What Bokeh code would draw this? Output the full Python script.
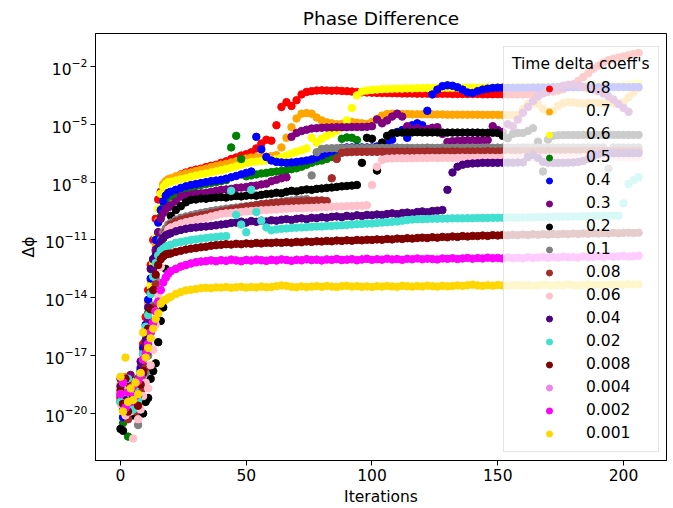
import numpy as np
from bokeh.plotting import figure
from bokeh.models import Range1d, FixedTicker, LogTickFormatter, Legend, LegendItem, ColumnDataSource
from bokeh.embed import file_html
from bokeh.resources import INLINE

# iterations: every iteration for 0..19, then every 2nd iteration
ITER_EARLY = list(range(0, 20))
ITER_LATE = list(range(20, 208, 2))

COEFFS = ["0.8", "0.7", "0.6", "0.5", "0.4", "0.3", "0.2", "0.1", "0.08", "0.06",
          "0.04", "0.02", "0.008", "0.004", "0.002", "0.001"]
COLORS = ["red", "orange", "yellow", "green", "blue", "purple", "black", "gray", "brown", "pink",
          "indigo", "turquoise", "maroon", "violet", "magenta", "gold"]

# log10(delta phi), early part (iterations 0..19)
E_08 = [-19.2, -18.6, -19.8, -18.3, -19.5, -18.8, -19.1, -18.2, -17.6, -16.4, -15.0, -13.6, -12.3, -11.0, -9.9, -8.9, -8.5, -8.2, -8.0, -7.9]
E_07 = [-18.5, -19.3, -18.1, -19.7, -18.9, -19.4, -18.6, -19.0, -17.9, -16.8, -15.6, -14.3, -13.1, -12.0, -11.2, -10.0, -8.6, -8.1, -7.95, -7.85]
E_06 = [-18.9, -19.6, -18.4, -19.1, -18.7, -19.8, -18.5, -19.3, -18.0, -17.0, -15.8, -14.6, -13.4, -12.2, -10.9, -9.4, -8.6, -8.25, -8.1, -8.0]
E_05 = [-19.4, -20.5, -18.7, -21.2, -19.0, -18.5, -19.6, -18.2, -17.8, -16.9, -15.9, -14.8, -13.7, -12.5, -11.6, -10.6, -9.8, -9.3, -8.9, -8.7]
E_04 = [-19.0, -20.2, -18.8, -20.0, -19.3, -18.6, -19.7, -18.9, -17.7, -16.6, -15.4, -14.1, -13.0, -12.0, -11.0, -10.1, -9.45, -9.0, -8.7, -8.55]
E_03 = [-18.2, -19.0, -18.5, -19.6, -18.0, -19.3, -20.0, -18.7, -18.3, -17.5, -16.4, -15.1, -13.8, -12.6, -11.5, -10.6, -9.9, -9.6, -9.4, -9.3]
E_02 = [-20.8, -20.9, -19.0, -19.5, -18.6, -20.1, -19.3, -19.8, -18.9, -20.0, -19.4, -19.2, -18.2, -17.8, -17.4, -16.3, -15.2, -14.5, -12.5, -10.6]
E_01 = [-19.3, -18.8, -19.9, -18.4, -19.6, -18.9, -19.2, -20.6, -19.0, -18.5, -17.9, -17.0, -15.8, -14.4, -13.0, -11.8, -11.0, -10.6, -10.4, -10.2]
E_008 = [-19.1, -19.8, -18.6, -20.3, -19.4, -18.5, -19.9, -19.2, -18.8, -18.3, -17.6, -16.8, -15.7, -14.5, -13.3, -12.2, -11.4, -10.9, -10.6, -10.4]
E_006 = [-19.5, -18.7, -20.1, -19.0, -19.9, -21.3, -19.6, -20.3, -19.8, -19.1, -18.4, -18.7, -17.5, -16.7, -15.4, -13.9, -12.4, -11.3, -10.7, -10.45]
E_004 = [-18.6, -19.2, -18.3, -19.0, -18.8, -19.5, -18.4, -19.1, -17.3, -17.9, -16.2, -14.5, -12.5, -12.0, -11.8, -11.4, -11.1, -10.9, -10.75, -10.7]
E_002 = [-19.4, -18.9, -19.7, -18.2, -19.0, -19.8, -18.6, -19.3, -18.0, -16.9, -15.5, -14.9, -13.8, -12.9, -12.2, -11.8, -11.55, -11.45, -11.35, -11.3]
E_0008 = [-18.8, -19.5, -18.2, -19.9, -18.6, -19.2, -18.4, -19.6, -18.5, -17.8, -16.7, -15.6, -14.6, -13.6, -12.8, -12.3, -12.0, -11.85, -11.75, -11.72]
E_0004 = [-19.0, -18.4, -19.7, -18.9, -19.4, -18.6, -19.1, -18.3, -18.0, -17.2, -16.9, -16.4, -15.8, -15.3, -14.7, -14.2, -13.6, -13.2, -12.95, -12.75]
E_0002 = [-19.0, -18.4, -19.7, -18.9, -19.4, -18.6, -19.1, -18.3, -18.0, -17.2, -16.9, -16.4, -15.8, -15.3, -14.7, -14.2, -13.6, -13.2, -12.95, -12.75]
E_0001 = [-18.1, -19.9, -17.1, -19.4, -18.7, -19.3, -18.4, -19.0, -17.9, -15.8, -17.1, -16.6, -16.1, -15.6, -15.1, -14.8, -14.3, -14.15, -14.1, -14.0]

# log10(delta phi), later part (iterations 20, 22, 24, ...)
L_08 = [-7.9, -7.75, -7.6, -7.5, -7.42, -7.35, -7.3, -7.22, -7.15, -7.1,
        -7.0, -6.92, -6.8, -6.72, -6.62, -6.55, -6.45, -6.25, -6.0, -5.8,
        -5.85, -5.05, -4.1, -3.85, -4.05, -3.75, -3.45, -3.32, -3.28, -3.25,
        -3.24, -3.25, -3.26, -3.25, -3.27, -3.28, -3.3, -3.32, -3.34, -3.35,
        -3.36, -3.37, -3.38, -3.38, -3.39, -3.39, -3.4, -3.4, -3.4, -3.41,
        -3.41, -3.41, -3.42, -3.42, -3.42, -3.42, -3.43, -3.43, -3.43, -3.43,
        -3.43, -3.43, -3.44, -3.44, -3.44, -3.44, -3.44, -3.45, -3.45, -3.45,
        -3.45, -3.44, -3.42, -3.38, -3.35, -3.32, -3.3, -3.25, -3.18, -3.05,
        -2.92, -2.75, -2.55, -2.35, -2.12, -1.95, -1.8, -1.68, -1.6, -1.53,
        -1.48, -1.42, -1.36, -1.3]
L_07 = [-7.8, -7.7, -7.62, -7.55, -7.5, -7.42, -7.36, -7.3, -7.22, -7.16,
        -7.1, -7.05, -6.98, -6.92, -6.85, -6.78, -6.72, -6.7, -6.68, -6.68,
        -6.65, -6.6, -6.2, -5.7, -5.15, -4.7, -4.45, -4.42, -4.45, -4.65,
        -4.8, -4.9, -4.95, -5.0, -4.98, -4.9, -4.88, -4.92, -4.95, -4.98,
        -4.88, -4.72, -4.55, -4.47, -4.45, -4.46, -4.47, -4.47, -4.48, -4.48,
        -4.48, -4.48, -4.49, -4.49, -4.49, -4.5, -4.5, -4.5, -4.5, -4.5,
        -4.5, -4.5, -4.51, -4.51, -4.51, -4.51, -4.52, -4.52, -4.52, -4.52,
        -4.2, -3.95, -3.9, -3.95, -4.2, -4.35, -4.3, -4.05, -3.9, -3.85,
        -3.87, -3.9, -3.92, -3.9, -3.88, -3.9, -3.92, -3.9, -3.9, -3.91,
        -3.85, -3.6, -3.35, -3.1]
L_06 = [-7.98, -7.92, -7.85, -7.8, -7.72, -7.66, -7.6, -7.55, -7.5, -7.44,
        -7.38, -7.32, -7.25, -7.18, -7.1, -7.02, -6.96, -6.93, -6.9, -6.88,
        -6.85, -6.8, -6.72, -6.62, -6.52, -6.42, -6.35, -6.25, -5.7, -5.95,
        -5.75, -5.6, -5.48, -5.32, -5.15, -4.8, -4.15, -3.5, -3.3, -3.25,
        -3.22, -3.2, -3.18, -3.17, -3.16, -3.15, -3.15, -3.14, -3.14, -3.13,
        -3.13, -3.12, -3.12, -3.12, -3.11, -3.11, -3.11, -3.1, -3.1, -3.1,
        -3.1, -3.1, -3.09, -3.09, -3.09, -3.08, -3.08, -3.08, -3.07, -3.07,
        -3.07, -3.06, -3.06, -3.06, -3.05, -3.05, -3.05, -3.04, -3.04, -3.04,
        -3.03, -3.03, -3.03, -3.02, -3.02, -3.02, -3.01, -3.01, -3.0, -3.0,
        -2.98, -2.95, -2.92, -2.88]
L_05 = [-8.75, -8.6, -8.45, -8.35, -8.28, -8.2, -8.15, -8.1, -8.05, -8.0,
        -7.95, -7.9, -6.2, -5.6, -6.8, -7.7, -7.65, -7.6, -7.55, -7.52,
        -7.48, -7.45, -7.42, -7.38, -7.33, -7.28, -7.2, -7.1, -7.0, -6.92,
        -6.88, -6.8, -6.7, -6.6, -5.75, -5.68, -5.7, -5.82]
L_04 = [-8.5, -8.4, -8.3, -8.22, -8.15, -8.1, -8.05, -8.0, -7.95, -7.92,
        -7.88, -7.82, -7.75, -7.68, -7.6, -7.52, -7.45, -5.65, -6.3, -6.7,
        -6.88, -6.95, -6.98, -7.0, -6.98, -6.95, -6.92, -6.88, -6.82, -6.72,
        -6.62, -6.5, -6.4, -6.3, -6.22, -6.2, -6.2, -6.2, -6.2, -6.2,
        -6.2, -6.15, -6.1, -6.0, -5.8, -5.4, -5.3, -5.7, -5.05, -4.95,
        -5.05, -4.3, -3.45, -3.2, -3.02, -2.98, -3.0, -3.08, -3.2, -3.35,
        -3.38, -3.28, -3.2, -3.15, -3.12, -3.1, -3.1, -3.1, -3.1, -3.1,
        -3.1, -3.1, -3.09, -3.09, -3.09, -3.09, -3.08, -3.08, -3.08, -3.08,
        -3.08, -3.08, -3.08, -3.08, -3.08, -3.08, -3.08, -3.07, -3.07, -3.07,
        -3.07, -3.07, -3.07, -3.07]
L_03 = [-9.2, -9.0, -8.75, -8.7, -8.65, -8.6, -8.58, -8.55, -8.5, -8.45,
        -8.4, -8.38, -8.35, -8.3, -8.28, -8.25, -8.2, -8.18, -8.12, -8.08,
        -7.95, -7.88, -7.8, -7.75, -5.65, -5.45, -5.35, -5.28, -5.22, -5.2,
        -5.18, -5.17, -5.16, -5.15, -5.15, -5.15, -5.14, -5.14, -5.14, -5.13,
        -5.1, -4.75, -4.95, -4.8, -4.6, -4.45, -4.6, -5.1, -5.3, -5.2,
        -5.3, -5.25, -5.18, -5.15, -5.5, -5.92, -5.88, -5.86, -5.85, -5.84,
        -5.84, -5.83, -5.83, -5.82, -5.1, -5.3, -5.4, -5.0, -5.1, -4.75,
        -4.4, -4.1, -3.8, -3.55, -3.4, -3.3, -3.2, -3.1, -3.0, -2.95,
        -2.95, -2.98, -3.05, -3.12, -3.2, -3.28, -3.4, -3.55, -3.72, -3.95,
        -4.15, -4.35]
L_02 = [-9.75, -9.45, -9.25, -9.05, -8.92, -8.9, -8.85, -8.86, -8.82, -8.8,
        -8.78, -8.8, -8.75, -8.72, -8.74, -8.7, -8.68, -8.7, -8.66, -8.62,
        -8.6, -8.55, -8.58, -8.5, -8.45, -8.48, -8.42, -8.38, -8.4, -8.35,
        -8.33, -8.3, -8.28, -8.25, -8.22, -8.2, -8.18, -8.15, -7.0, -5.7,
        -5.75, -7.4, -5.95, -5.6, -5.47, -5.44, -5.43, -5.42, -5.42, -5.41,
        -5.42, -5.42, -5.42, -5.42, -5.43, -5.43, -5.43, -5.43, -5.43, -5.43,
        -5.43, -5.43, -5.44, -5.44, -5.44, -5.45, -5.6, -5.72, -5.5, -5.45,
        -5.45, -5.35, -5.2, -5.9, -7.45, -5.8, -5.6, -5.57, -5.56, -5.56,
        -5.56, -5.56, -5.55, -5.55, -5.55, -5.55, -5.55, -5.55, -5.55, -5.55,
        -5.55, -5.55, -5.55, -5.55]
L_01 = [-10.1, -9.95, -9.85, -9.78, -9.72, -9.66, -9.6, -9.55, -9.5, -9.46,
        -9.42, -9.38, -9.35, -9.32, -9.28, -9.25, -9.22, -9.18, -9.15, -9.12,
        -9.08, -9.05, -9.02, -8.98, -8.95, -8.92, -8.9, -8.88, -7.65, -6.45,
        -6.28, -6.25, -6.24, -6.24, -6.23, -6.23, -6.23, -6.23, -6.23, -6.23,
        -6.23, -6.22, -6.22, -6.23, -6.22, -6.21, -6.22, -6.22, -6.23, -6.22,
        -6.22, -6.21, -6.22, -6.22, -6.21, -6.22, -6.22, -6.21, -6.22, -6.21,
        -6.21, -6.22, -6.21, -6.21, -6.22, -6.21, -6.21, -6.21, -6.22, -6.21,
        -6.21, -6.21, -6.2, -6.21, -6.21, -6.2, -6.21, -6.21, -6.2, -6.21,
        -6.2, -6.21, -6.2, -6.2, -6.21, -6.2, -6.2, -7.3, -6.2, -6.2,
        -6.2, -6.21, -6.2, -6.2]
L_008 = [-10.2, -10.05, -9.95, -9.88, -9.82, -9.78, -9.72, -9.68, -9.62, -9.58,
         -9.52, -9.48, -9.42, -9.38, -9.33, -9.28, -9.24, -9.2, -9.15, -9.12,
         -9.1, -9.08, -9.06, -9.05, -9.03, -9.02, -9.0, -8.98, -8.97, -8.95,
         -8.95, -8.98, -7.8, -6.8, -6.48, -6.45, -6.44, -6.43, -6.43, -6.43,
         -6.43, -6.43, -6.42, -6.43, -6.42, -6.42, -6.43, -6.42, -6.42, -6.42,
         -6.42, -6.41, -6.42, -6.42, -6.41, -6.42, -6.41, -6.41, -6.42, -6.41,
         -6.41, -6.41, -6.41, -6.4, -6.41, -6.41, -6.4, -6.41, -6.4, -6.4,
         -6.4, -6.41, -6.4, -6.4, -6.4, -6.39, -6.4, -6.4, -6.39, -6.4,
         -6.39, -6.39, -6.4, -6.39, -6.39, -6.39, -6.38, -6.39, -6.39, -6.38,
         -6.38, -6.39, -6.38, -6.38]
L_006 = [-10.35, -10.25, -10.15, -10.08, -10.02, -9.95, -9.9, -9.85, -9.78, -9.72,
         -9.65, -9.62, -9.6, -9.57, -9.55, -9.52, -9.5, -9.48, -9.46, -9.45,
         -9.43, -9.42, -9.4, -9.38, -9.37, -9.36, -9.35, -9.34, -9.33, -9.32,
         -9.3, -9.3, -9.28, -9.27, -9.26, -9.25, -9.24, -9.23, -9.22, -9.2,
         -8.15, -7.2, -6.85, -6.78, -6.77, -6.76, -6.76, -6.76, -6.76, -6.75,
         -6.75, -6.75, -6.74, -6.75, -6.74, -6.74, -6.75, -6.74, -6.73, -6.74,
         -6.74, -6.73, -6.74, -6.73, -6.73, -6.74, -6.73, -6.72, -6.73, -6.73,
         -6.72, -6.73, -6.72, -6.72, -6.73, -6.72, -6.71, -6.72, -6.72, -6.71,
         -6.71, -6.72, -6.71, -6.71, -6.7, -6.71, -6.71, -6.7, -6.71, -6.7,
         -6.7, -6.7, -6.71, -6.7]
L_004 = [-10.65, -10.55, -10.48, -10.42, -10.38, -10.35, -10.32, -10.3, -10.27, -10.24,
         -10.2, -10.17, -10.12, -10.1, -10.05, -10.1, -10.02, -10.06, -10.0, -10.04,
         -9.98, -10.0, -9.95, -9.92, -9.96, -9.9, -9.88, -9.92, -9.85, -9.87,
         -9.82, -9.85, -9.8, -9.78, -9.82, -9.75, -9.78, -9.72, -9.76, -9.7,
         -9.72, -9.68, -9.7, -9.65, -9.62, -9.66, -9.6, -9.58, -9.62, -9.55,
         -9.52, -9.56, -9.5, -9.48, -9.45, -8.4, -7.5, -7.2, -7.1, -7.05,
         -7.03, -7.02, -7.0, -7.0, -7.0, -7.0, -6.99, -6.99, -6.99, -6.98,
         -6.98, -6.7, -6.6, -6.75, -6.95, -7.0, -7.0, -7.0, -7.0, -6.99,
         -6.98, -6.95, -6.9, -6.8, -6.65, -6.55, -6.5, -6.5, -6.5, -6.5,
         -6.5, -6.5, -6.5, -6.5]
L_002 = [-11.25, -11.15, -11.1, -11.05, -11.0, -10.97, -10.93, -10.9, -10.87, -10.84,
         -10.82, -10.8, -8.45, -9.7, -10.2, -10.6, -8.4, -9.55, -10.0, -10.35,
         -10.5, -10.45, -10.42, -10.4, -10.38, -10.36, -10.35, -10.33, -10.32, -10.3,
         -10.3, -10.28, -10.27, -10.25, -10.24, -10.22, -10.2, -10.18, -10.17, -10.15,
         -10.14, -10.12, -10.1, -10.08, -10.06, -10.04, -10.0, -9.97, -9.94, -9.92,
         -9.92, -9.91, -9.9, -9.9, -9.89, -9.89, -9.88, -9.88, -9.88, -9.87,
         -9.87, -9.86, -9.86, -9.86, -9.85, -9.85, -9.85, -9.84, -9.84, -9.84,
         -9.83, -9.83, -9.82, -9.82, -9.81, -9.81, -9.8, -9.8, -9.79, -9.79,
         -9.78, -9.78, -9.77, -9.77, -9.76, -9.76, -9.75, -9.75, -9.74, -9.74,
         -9.1, -8.1, -7.9, -7.75]
L_0008 = [-11.7, -11.62, -11.56, -11.5, -11.45, -11.42, -11.38, -11.35, -11.3, -11.27,
          -11.25, -11.22, -11.24, -11.2, -11.22, -11.18, -11.2, -11.16, -11.18, -11.15,
          -11.16, -11.13, -11.15, -11.12, -11.14, -11.1, -11.12, -11.08, -11.1, -11.07,
          -11.08, -11.05, -11.07, -11.03, -11.05, -11.02, -11.04, -11.0, -11.02, -10.99,
          -11.0, -10.97, -10.99, -10.95, -10.97, -10.93, -10.95, -10.91, -10.93, -10.9,
          -10.88, -10.9, -10.86, -10.88, -10.84, -10.86, -10.82, -10.84, -10.8, -10.82,
          -10.79, -10.8, -10.77, -10.79, -10.75, -10.77, -10.74, -10.76, -10.73, -10.75,
          -10.72, -10.74, -10.71, -10.73, -10.7, -10.72, -10.69, -10.71, -10.68, -10.7,
          -10.67, -10.69, -10.66, -10.68, -10.65, -10.67, -10.64, -10.66, -10.63, -10.65,
          -10.63, -10.62, -10.64, -10.62]
L_0004 = [-12.62, -12.5, -12.38, -12.3, -12.22, -12.16, -12.12, -12.1, -12.06, -12.1,
          -12.05, -12.08, -12.02, -12.06, -12.1, -12.04, -12.07, -12.02, -12.05, -12.08,
          -12.03, -12.06, -12.01, -12.04, -12.08, -12.03, -12.05, -12.0, -12.04, -12.02,
          -12.06, -12.01, -12.03, -11.99, -12.04, -12.02, -12.0, -12.05, -12.01, -11.98]
L_0002 = [-12.62, -12.5, -12.38, -12.3, -12.22, -12.16, -12.12, -12.1, -12.06, -12.1,
          -12.05, -12.08, -12.02, -12.06, -12.1, -12.04, -12.07, -12.02, -12.05, -12.08,
          -12.03, -12.06, -12.01, -12.04, -12.08, -12.03, -12.05, -12.0, -12.04, -12.02,
          -12.06, -12.01, -12.03, -11.99, -12.04, -12.02, -12.0, -12.05, -12.01, -11.98,
          -12.03, -12.0, -12.02, -11.97, -12.01, -11.99, -12.03, -11.98, -12.0, -11.96,
          -12.0, -11.97, -11.99, -12.01, -11.96, -11.98, -11.95, -11.99, -11.96, -11.93,
          -11.97, -11.94, -11.96, -11.92, -11.95, -11.93, -11.96, -11.91, -11.94, -11.92,
          -11.95, -11.9, -11.93, -11.91, -11.88, -11.92, -11.89, -11.91, -11.87, -11.9,
          -11.88, -11.91, -11.86, -11.89, -11.87, -11.85, -11.88, -11.84, -11.87, -11.85,
          -11.83, -11.86, -11.84, -11.82]
L_0001 = [-13.95, -13.8, -13.7, -13.62, -13.58, -13.55, -13.5, -13.48, -13.5, -13.46,
          -13.47, -13.44, -13.48, -13.45, -13.43, -13.47, -13.44, -13.46, -13.42, -13.45,
          -13.44, -13.4, -13.36, -13.38, -13.43, -13.45, -13.41, -13.44, -13.42, -13.4,
          -13.43, -13.39, -13.42, -13.44, -13.4, -13.38, -13.42, -13.4, -13.43, -13.41,
          -13.44, -13.4, -13.42, -13.39, -13.41, -13.43, -13.38, -13.4, -13.42, -13.39,
          -13.41, -13.37, -13.4, -13.42, -13.38, -13.4, -13.39, -13.36, -13.38, -13.35,
          -13.32, -13.36, -13.38, -13.35, -13.37, -13.34, -13.36, -13.38, -13.35, -13.33,
          -13.36, -13.34, -13.37, -13.35, -13.32, -13.34, -13.36, -13.33, -13.35, -13.31,
          -13.34, -13.36, -13.33, -13.3, -13.34, -13.32, -13.35, -13.31, -13.33, -13.3,
          -13.32, -13.29, -13.31, -13.3]

EARLY = [E_08, E_07, E_06, E_05, E_04, E_03, E_02, E_01, E_008, E_006,
         E_004, E_002, E_0008, E_0004, E_0002, E_0001]
LATE = [L_08, L_07, L_06, L_05, L_04, L_03, L_02, L_01, L_008, L_006,
        L_004, L_002, L_0008, L_0004, L_0002, L_0001]

FONT = "DejaVu Sans"
FS = "15.5px"

p = figure(width=673, height=508, y_axis_type="log",
           x_range=Range1d(-9.94, 217.1), y_range=Range1d(10 ** -22.44, 10 ** -0.29),
           output_backend="svg", toolbar_location=None, title="Phase Difference",
           min_border_left=95, min_border_right=7, min_border_top=33, min_border_bottom=48)

p.background_fill_color = "white"
p.border_fill_color = "white"
p.outline_line_color = "black"
p.outline_line_width = 1
p.outline_line_alpha = 1
p.grid.visible = False

p.title.text_font = FONT
p.title.text_font_size = "18.5px"
p.title.text_font_style = "normal"
p.title.text_color = "black"
p.title.align = "center"

p.xaxis.ticker = FixedTicker(ticks=[0, 50, 100, 150, 200])
p.yaxis.ticker = FixedTicker(ticks=[1e-20, 1e-17, 1e-14, 1e-11, 1e-8, 1e-5, 1e-2])
p.yaxis.formatter = LogTickFormatter()
p.xaxis.axis_label = "Iterations"
p.yaxis.axis_label = "Δϕ"
for ax in (p.xaxis, p.yaxis):
    ax.axis_line_color = "black"
    ax.major_tick_line_color = "black"
    ax.major_tick_out = 5
    ax.major_tick_in = 0
    ax.minor_tick_out = 0
    ax.minor_tick_in = 0
    ax.minor_tick_line_color = None
    ax.major_label_text_font = FONT
    ax.major_label_text_font_size = FS
    ax.major_label_text_color = "black"
    ax.axis_label_text_font = FONT
    ax.axis_label_text_font_size = FS
    ax.axis_label_text_font_style = "normal"
    ax.axis_label_text_color = "black"
    ax.major_label_standoff = 3
    ax.axis_label_standoff = 4

items = []
for coef, color, e, l in zip(COEFFS, COLORS, EARLY, LATE):
    xs = ITER_EARLY + ITER_LATE[:len(l)]
    ys = [10 ** v for v in (e + l)]
    src = ColumnDataSource(data=dict(x=xs, y=ys))
    r = p.scatter("x", "y", source=src, size=7.5, marker="circle",
                  fill_color=color, line_color=color, line_width=1)
    items.append(LegendItem(label=coef, renderers=[r]))

legend = Legend(items=items, location=(408, 8), title="Time delta coeff's",
                glyph_width=74, glyph_height=15, label_standoff=0, label_height=20,
                spacing=3, padding=8, margin=0,
                border_line_color="#cccccc", border_line_width=1,
                background_fill_color="white", background_fill_alpha=0.8,
                label_text_font=FONT, label_text_font_size=FS, label_text_color="black",
                title_text_font=FONT, title_text_font_size=FS,
                title_text_font_style="normal", title_text_color="black", title_standoff=5)
p.add_layout(legend)

open("out.html", "w").write(file_html(p, INLINE))
